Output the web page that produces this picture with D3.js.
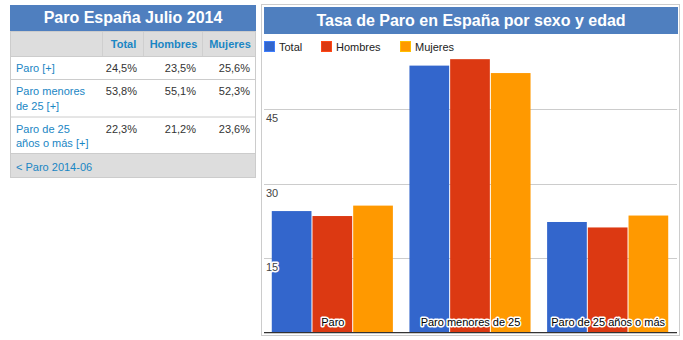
<!DOCTYPE html>
<html>
<head>
<meta charset="utf-8">
<script src="https://cdn.jsdelivr.net/npm/d3@7"></script>
<style>
  html, body { margin: 0; padding: 0; background: #fff; }
  svg { display: block; font-family: "Liberation Sans", Arial, sans-serif; }
</style>
</head>
<body>
<svg id="root" width="683" height="340"></svg>
<script>
// Tasa de paro, julio 2014 (%)
const categories = ["Paro", "Paro menores de 25", "Paro de 25 años o más"];
const rowLabels = [["Paro [+]"], ["Paro menores", "de 25 [+]"], ["Paro de 25", "años o más [+]"]];
const seriesNames = ["Total", "Hombres", "Mujeres"];
const total = [24.5, 53.8, 22.3];
const hombres = [23.5, 55.1, 21.2];
const mujeres = [25.6, 52.3, 23.6];
const yTicks = [15, 30, 45];
const colors = ["#3366cc", "#dc3912", "#ff9900"];

const series = [total, hombres, mujeres];
const fmt = v => v.toFixed(1).replace(".", ",") + "%";

const svg = d3.select("#root");

/* ---------- Tabla resumen ---------- */
const tb = svg.append("g");
const tX0 = 10, tX1 = 256;
const colEdges = [tX0, 102, 143, 202, tX1];
const rowEdges = [31, 56, 79, 116.5, 153, 178];

tb.append("rect").attr("x", tX0).attr("y", 5).attr("width", tX1 - tX0).attr("height", 26).attr("fill", "#4f7fbf");
tb.append("text").attr("x", (tX0 + tX1) / 2).attr("y", 23).attr("text-anchor", "middle")
  .attr("fill", "#fff").attr("font-size", 16).attr("font-weight", "bold").text("Paro España Julio 2014");

// cabecera y pie grises
tb.append("rect").attr("x", tX0 + 0.5).attr("y", rowEdges[0]).attr("width", tX1 - tX0 - 1).attr("height", rowEdges[1] - rowEdges[0]).attr("fill", "#dddddd");
tb.append("rect").attr("x", tX0 + 0.5).attr("y", rowEdges[4]).attr("width", tX1 - tX0 - 1).attr("height", rowEdges[5] - rowEdges[4]).attr("fill", "#dddddd");

// separadores de columna en la cabecera
colEdges.slice(1, 4).forEach(x => {
  tb.append("line").attr("x1", x + 0.5).attr("x2", x + 0.5).attr("y1", rowEdges[0]).attr("y2", rowEdges[1])
    .attr("stroke", "#cfcfcf");
});
// líneas entre filas
rowEdges.slice(1, 5).forEach(y => {
  tb.append("line").attr("x1", tX0).attr("x2", tX1).attr("y1", y + 0.5).attr("y2", y + 0.5).attr("stroke", "#cccccc");
});
// marco
tb.append("rect").attr("x", tX0 + 0.5).attr("y", rowEdges[0] + 0.5).attr("width", tX1 - tX0 - 1).attr("height", rowEdges[5] - rowEdges[0] - 1)
  .attr("fill", "none").attr("stroke", "#cccccc");

// cabecera de columnas
seriesNames.forEach((name, i) => {
  tb.append("text").attr("x", (colEdges[i + 1] + colEdges[i + 2]) / 2 + 1).attr("y", 48).attr("text-anchor", "middle")
    .attr("fill", "#1a86c4").attr("font-size", 11).attr("font-weight", "bold").text(name);
});

// filas
categories.forEach((c, r) => {
  const yTop = rowEdges[r + 1];
  const g = tb.append("g");
  rowLabels[r].forEach((line, k) => {
    g.append("text").attr("x", 16).attr("y", yTop + 16 + k * 14.5)
      .attr("fill", "#1a86c4").attr("font-size", 11).text(line);
  });
  series.forEach((s, i) => {
    g.append("text").attr("x", colEdges[i + 2] - 6).attr("y", yTop + 16).attr("text-anchor", "end")
      .attr("fill", "#333").attr("font-size", 11).text(fmt(s[r]));
  });
});
tb.append("text").attr("x", 16).attr("y", 171).attr("fill", "#1a86c4").attr("font-size", 11).text("< Paro 2014-06");

/* ---------- Gráfico de barras ---------- */
const ch = svg.append("g");
ch.append("rect").attr("x", 261.5).attr("y", 4.5).attr("width", 418).attr("height", 331)
  .attr("fill", "#fff").attr("stroke", "#cccccc");

const x0 = d3.scaleBand().domain(categories).range([264, 677]).paddingInner(0.113).paddingOuter(0.0565);
const x1 = d3.scaleBand().domain(seriesNames).range([0, x0.bandwidth()]);
const y = d3.scaleLinear().domain([0, 45]).range([332.7, 109.3]);

// rejilla
ch.append("g").selectAll("line").data(yTicks).join("line")
  .attr("x1", 264).attr("x2", 677)
  .attr("y1", d => Math.round(y(d)) + 0.5).attr("y2", d => Math.round(y(d)) + 0.5)
  .attr("stroke", "#cccccc");

// barras
const groups = ch.append("g").selectAll("g").data(categories).join("g")
  .attr("transform", d => `translate(${x0(d)},0)`);
groups.selectAll("rect").data((d, ci) => seriesNames.map((n, si) => ({ n, si, v: series[si][ci] })))
  .join("rect")
  .attr("x", d => x1(d.n))
  .attr("width", x1.bandwidth() - 1)
  .attr("y", d => y(d.v))
  .attr("height", d => y(0) - y(d.v))
  .attr("fill", d => colors[d.si]);

// etiquetas del eje y (dentro del área, bajo cada línea)
ch.append("g").selectAll("text").data(yTicks).join("text")
  .attr("x", 266).attr("y", d => y(d) + 13)
  .attr("font-size", 11).attr("fill", "#444")
  .attr("stroke", "#fff").attr("stroke-width", 3).attr("paint-order", "stroke").attr("stroke-linejoin", "round")
  .text(d => d);

// línea base
ch.append("line").attr("x1", 264).attr("x2", 677).attr("y1", y(0)).attr("y2", y(0))
  .attr("stroke", "#333").attr("stroke-width", 1.3);

// etiquetas de categoría
ch.append("g").selectAll("text").data(categories).join("text")
  .attr("x", d => x0(d) + x0.bandwidth() / 2).attr("y", 326)
  .attr("text-anchor", "middle").attr("font-size", 11).attr("fill", "#000")
  .attr("stroke", "#fff").attr("stroke-width", 3).attr("paint-order", "stroke").attr("stroke-linejoin", "round")
  .text(d => d);

// título
ch.append("rect").attr("x", 264).attr("y", 7).attr("width", 414).attr("height", 27).attr("fill", "#4f7fbf");
ch.append("text").attr("x", 471).attr("y", 26).attr("text-anchor", "middle")
  .attr("fill", "#fff").attr("font-size", 16).attr("font-weight", "bold")
  .text("Tasa de Paro en España por sexo y edad");

// leyenda
const legendX = [264, 321, 400];
const lg = ch.append("g").selectAll("g").data(seriesNames).join("g")
  .attr("transform", (d, i) => `translate(${legendX[i]},41)`);
lg.append("rect").attr("x", 0.5).attr("y", 0.5).attr("width", 10).attr("height", 10)
  .attr("fill", (d, i) => colors[i]).attr("stroke", (d, i) => d3.color(colors[i]).brighter(0.6));
lg.append("text").attr("x", 15).attr("y", 9.5).attr("font-size", 11).attr("fill", "#222").text(d => d);
</script>
</body>
</html>
